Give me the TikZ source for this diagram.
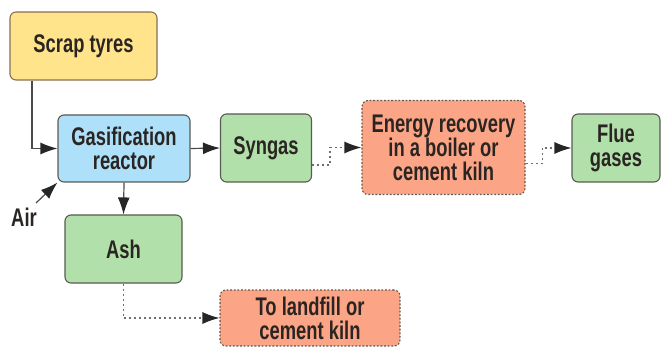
\documentclass[tikz,border=0pt]{standalone}
\usepackage{fontspec}
\setmainfont{Liberation Sans}[FakeStretch=0.72]
\usetikzlibrary{arrows.meta}
\definecolor{yel}{HTML}{FFE48C}
\definecolor{blu}{HTML}{AEE0FA}
\definecolor{grn}{HTML}{B2E0AA}
\definecolor{sal}{HTML}{FBA486}
\definecolor{brd}{HTML}{5A5A52}
\definecolor{brdy}{HTML}{8A6E50}
\definecolor{txt}{HTML}{2A2522}
\definecolor{lin}{HTML}{4A4A48}
\tikzset{
  lbl/.style={font=\bfseries\fontsize{25.5}{24}\selectfont, text=txt},
  box/.style={lbl, draw=brd, line width=1.1pt, rounded corners=6pt, align=center, inner sep=0pt},
  solidbox/.style={box},
  dotbox/.style={box, dash pattern=on 1.8pt off 1.8pt},
  conn/.style={draw=lin, line width=1.2pt, -{Latex[length=17pt,width=12pt,color=black!85]}},
  dconn/.style={conn, draw=lin!80, dash pattern=on 2.4pt off 2.6pt},
}
\begin{document}
\begin{tikzpicture}[x=1pt,y=-1pt]
\useasboundingbox (0,0) rectangle (663,347);
\node[solidbox, fill=yel, draw=brdy, minimum width=147pt, minimum height=68pt] (scrap) at (83.5,46) {Scrap tyres};
\node[solidbox, fill=blu, minimum width=132pt, minimum height=67pt] (gas) at (124,148.5) {Gasification\\reactor};
\node[solidbox, fill=grn, minimum width=91pt, minimum height=68pt] (syn) at (266,148) {Syngas};
\node[dotbox, fill=sal, minimum width=163pt, minimum height=94pt] (energy) at (443.5,147.5) {Energy recovery\\in a boiler or\\cement kiln};
\node[solidbox, fill=grn, minimum width=88pt, minimum height=68pt] (flue) at (616,148) {Flue\\gases};
\node[solidbox, fill=grn, minimum width=117pt, minimum height=68pt] (ash) at (123.5,249) {Ash};
\node[dotbox, fill=sal, minimum width=180pt, minimum height=56pt] (land) at (310,318) {To landfill or\\cement kiln};
\node[lbl, inner sep=0pt] (air) at (24,217) {Air};
\coordinate (airs) at (36,203);
% connectors
\draw[conn] (scrap.south west -| 32,0) |- (gas.west);
\draw[conn] (airs) -- (gas.south west);
\draw[conn] (gas.south) -- (ash.north);
\draw[conn] (gas.east) -- (syn.west);
\draw[dconn] ([yshift=-17pt]syn.east) -- ++(18,0) |- (energy.west);
\draw[dconn] ([yshift=-16pt]energy.east) -- ++(17,0) |- (flue.west);
\draw[dconn] (ash.south) |- (land.west);
\end{tikzpicture}
\end{document}
